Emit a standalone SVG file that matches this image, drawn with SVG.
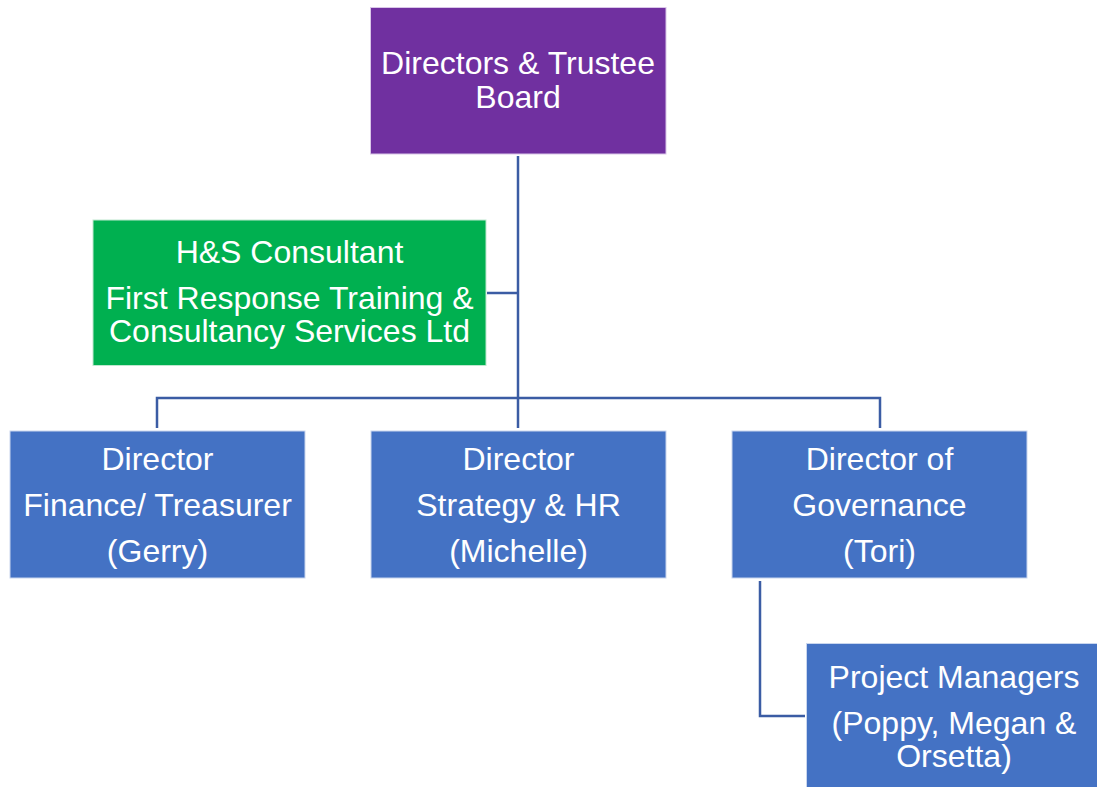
<svg xmlns="http://www.w3.org/2000/svg" width="1097" height="787" viewBox="0 0 1097 787">
  <style>
    .box { stroke-width: 1; }
    .board { fill: #7030A0; stroke: #D9C6E8; }
    .hs { fill: #00B050; stroke: #BFE8CF; }
    .dir { fill: #4472C4; stroke: #C9D6EE; }
    .lbl { font-family: "Liberation Sans", Arial, sans-serif; font-size: 32px; fill: #FFFFFF; text-anchor: middle; }
    .wire { fill: none; stroke: #3B5CA4; stroke-width: 2.5; }
  </style>

  <!-- connectors -->
  <g id="connectors">
    <path class="wire" d="M518 156 V398"/>
    <path class="wire" d="M487 293 H518"/>
    <path class="wire" d="M157 428 V398 H880 V428"/>
    <path class="wire" d="M518 398 V428"/>
    <path class="wire" d="M760 581 V716 H805"/>
  </g>

  <g id="board">
    <rect class="box board" x="370.5" y="7.5" width="295.5" height="146.5"/>
    <text class="lbl" x="518" y="74">Directors &amp; Trustee</text>
    <text class="lbl" x="518" y="108">Board</text>
  </g>

  <g id="hs-consultant">
    <rect class="box hs" x="93" y="220" width="393" height="145.5"/>
    <text class="lbl" x="289.5" y="263">H&amp;S Consultant</text>
    <text class="lbl" x="289.5" y="309">First Response Training &amp;</text>
    <text class="lbl" x="289.5" y="342">Consultancy Services Ltd</text>
  </g>

  <g id="director-finance">
    <rect class="box dir" x="10" y="431" width="295" height="147"/>
    <text class="lbl" x="157.5" y="470">Director</text>
    <text class="lbl" x="157.5" y="516">Finance/ Treasurer</text>
    <text class="lbl" x="157.5" y="562">(Gerry)</text>
  </g>

  <g id="director-strategy">
    <rect class="box dir" x="371" y="431" width="295" height="147"/>
    <text class="lbl" x="518.5" y="470">Director</text>
    <text class="lbl" x="518.5" y="516">Strategy &amp; HR</text>
    <text class="lbl" x="518.5" y="562">(Michelle)</text>
  </g>

  <g id="director-governance">
    <rect class="box dir" x="732" y="431" width="295" height="147"/>
    <text class="lbl" x="879.5" y="470">Director of</text>
    <text class="lbl" x="879.5" y="516">Governance</text>
    <text class="lbl" x="879.5" y="562">(Tori)</text>
  </g>

  <g id="project-managers">
    <rect class="box dir" x="806.5" y="643.5" width="295" height="147"/>
    <text class="lbl" x="954" y="688">Project Managers</text>
    <text class="lbl" x="954" y="734">(Poppy, Megan &amp;</text>
    <text class="lbl" x="954" y="767">Orsetta)</text>
  </g>
</svg>
